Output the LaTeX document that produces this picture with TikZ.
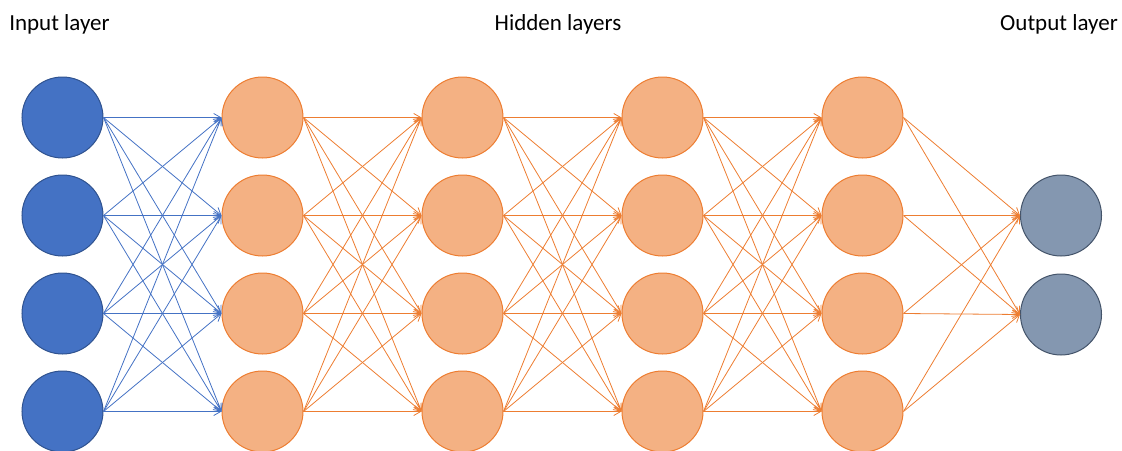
\documentclass[tikz,border=0pt]{standalone}
\usepackage{fontspec}
\setmainfont{Carlito}
\usetikzlibrary{arrows.meta}
\definecolor{inblue}{HTML}{4472C4}
\definecolor{inblueline}{HTML}{2F528F}
\definecolor{hidfill}{HTML}{F4B183}
\definecolor{hidline}{HTML}{ED7D31}
\definecolor{outfill}{HTML}{8497B0}
\definecolor{outline}{HTML}{44546A}
\tikzset{
  neuron/.style={circle, minimum size=81pt, inner sep=0pt, line width=1pt},
  inneuron/.style={neuron, fill=inblue, draw=inblueline},
  hidneuron/.style={neuron, fill=hidfill, draw=hidline},
  outneuron/.style={neuron, fill=outfill, draw=outline},
  conn/.style={line width=0.8pt, -{Straight Barb[length=7pt,width=8pt]}},
  inconn/.style={conn, draw=inblue},
  hidconn/.style={conn, draw=hidline},
  title/.style={font=\fontsize{23}{27}\selectfont, inner sep=0pt, anchor=base}
}
\begin{document}
\begin{tikzpicture}[x=1pt,y=-1pt]
\useasboundingbox (0,0) rectangle (1122,450);
\clip (0,0) rectangle (1122,450);
\node[title] (tin) at (59.5,30) {Input layer};
\node[title] (thid) at (558,30) {Hidden layers};
\node[title] (tout) at (1059,30) {Output layer};
\foreach \i/\y in {1/117.5,2/215.5,3/313.5,4/411.5}{
  \node[inneuron] (L0n\i) at (62.5,\y) {};
  \node[hidneuron] (L1n\i) at (262.5,\y) {};
  \node[hidneuron] (L2n\i) at (462.5,\y) {};
  \node[hidneuron] (L3n\i) at (662.5,\y) {};
  \node[hidneuron] (L4n\i) at (862.5,\y) {};
}
\node[outneuron] (O1) at (1061,215.5) {};
\node[outneuron] (O2) at (1061,314.5) {};
\foreach \i in {1,...,4}{
  \foreach \j in {1,...,4}{
    \draw[inconn] (L0n\i.east) -- (L1n\j.west);
    \draw[hidconn] (L1n\i.east) -- (L2n\j.west);
    \draw[hidconn] (L2n\i.east) -- (L3n\j.west);
    \draw[hidconn] (L3n\i.east) -- (L4n\j.west);
  }
  \draw[hidconn] (L4n\i.east) -- (O1.west);
  \draw[hidconn] (L4n\i.east) -- (O2.west);
}
\end{tikzpicture}
\end{document}
